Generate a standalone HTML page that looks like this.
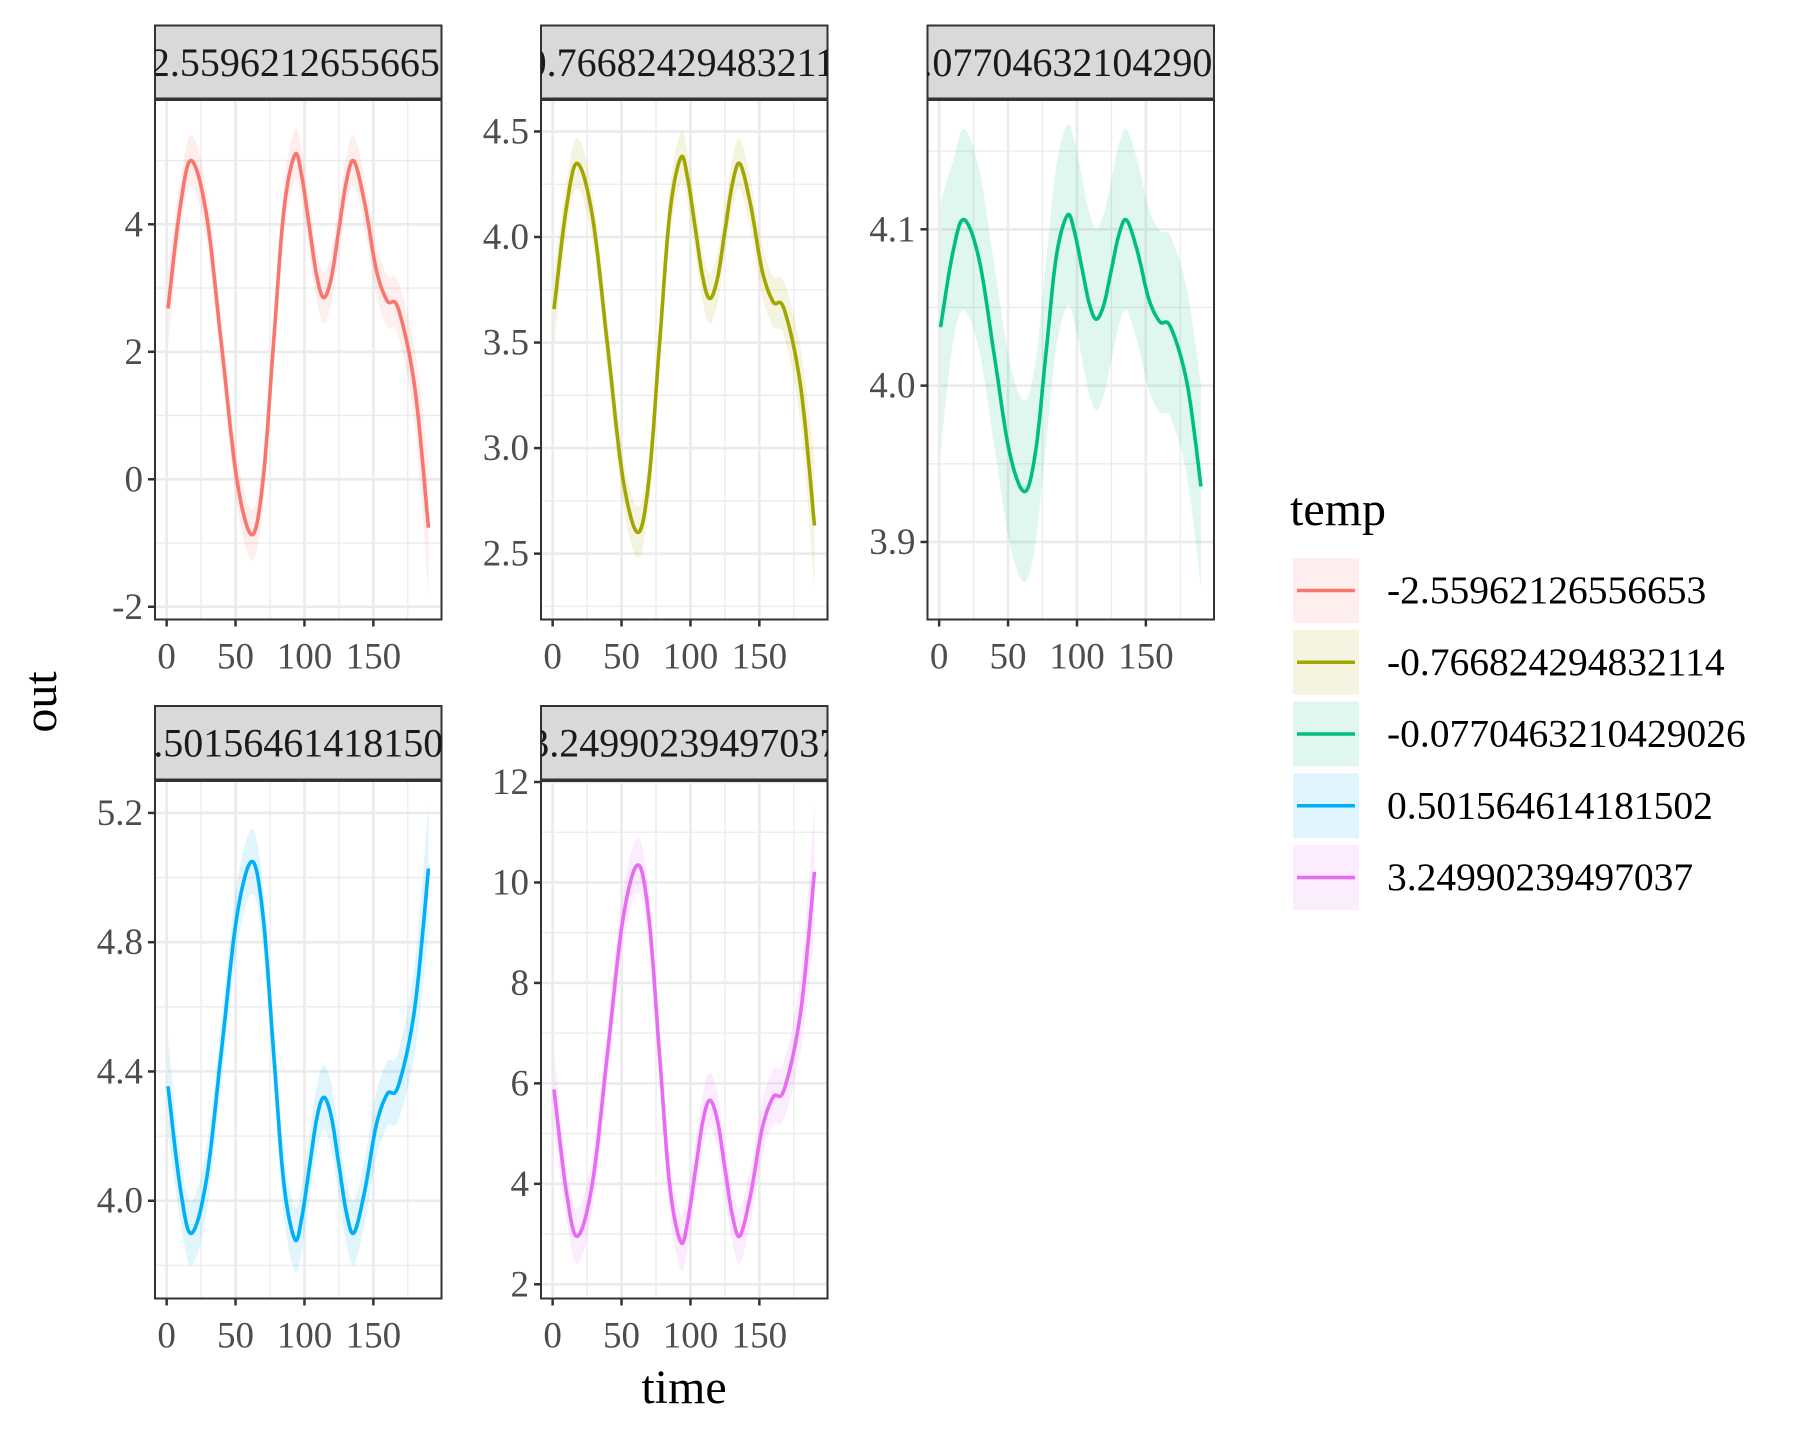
<!DOCTYPE html>
<html><head><meta charset="utf-8"><style>
html,body{margin:0;padding:0;background:#fff;}
svg{display:block;font-family:"Liberation Serif",serif;}
</style></head><body>
<svg id="chart" width="1800" height="1440" viewBox="0 0 1800 1440" xmlns="http://www.w3.org/2000/svg"></svg>
<script>
const times = [1,10,18,29,40,51,62,70,77.5,85,93,98,103.5,109,114,119.5,125,130.5,136,144,152,160,168,180,190];
const series1 = [2.68,4.3,5.0,4.14,2.07,-0.01,-0.87,0.0,2.11,4.2,5.09,4.76,3.97,3.18,2.85,3.16,3.92,4.68,4.99,4.3,3.3,2.8,2.68,1.45,-0.76];
const series2 = [3.658,4.140,4.349,4.093,3.476,2.856,2.600,2.859,3.488,4.111,4.376,4.277,4.042,3.807,3.708,3.801,4.027,4.254,4.346,4.140,3.842,3.693,3.658,3.291,2.633];
const series3 = [4.0374,4.0855,4.1062,4.0807,4.0194,3.9577,3.9322,3.958,4.0205,4.0825,4.1089,4.0991,4.0757,4.0523,4.0425,4.0517,4.0742,4.0967,4.1059,4.0855,4.0558,4.041,4.0374,4.001,3.9355];
const series4 = [4.354,4.036,3.899,4.068,4.473,4.881,5.050,4.879,4.465,4.056,3.881,3.946,4.101,4.256,4.320,4.260,4.111,3.962,3.901,4.036,4.232,4.330,4.354,4.595,5.028];
const series5 = [5.877,3.836,2.954,4.038,6.646,9.267,10.350,9.254,6.595,3.962,2.841,3.256,4.252,5.247,5.663,5.272,4.315,3.357,2.967,3.836,5.096,5.726,5.877,7.427,10.212];
const band1 = [0.6,0.4,0.4,0.4,0.4,0.4,0.4,0.4,0.4,0.4,0.4,0.4,0.4,0.4,0.4,0.4,0.4,0.4,0.4,0.4,0.4,0.4,0.42,0.6,1.05];
const band2 = [0.18,0.12,0.12,0.12,0.12,0.12,0.12,0.12,0.12,0.12,0.12,0.12,0.12,0.12,0.12,0.12,0.12,0.12,0.12,0.12,0.12,0.12,0.13,0.18,0.31];
const band3 = [0.08,0.058,0.058,0.058,0.058,0.058,0.058,0.058,0.058,0.058,0.058,0.058,0.058,0.058,0.058,0.058,0.058,0.058,0.058,0.058,0.058,0.058,0.058,0.06,0.065];
const band4 = [0.15,0.1,0.1,0.1,0.1,0.1,0.1,0.1,0.1,0.1,0.1,0.1,0.1,0.1,0.1,0.1,0.1,0.1,0.1,0.1,0.1,0.1,0.105,0.14,0.2];
const band5 = [0.8,0.55,0.55,0.55,0.55,0.55,0.55,0.55,0.55,0.55,0.55,0.55,0.55,0.55,0.55,0.55,0.55,0.55,0.55,0.55,0.55,0.55,0.58,0.8,1.3];
const labels = ["-2.55962126556653","-0.766824294832114","-0.0770463210429026","0.501564614181502","3.24990239497037"];
const colors = ["#F8766D","#A3A500","#00BF7D","#00B0F6","#E76BF3"];
const xTicks = [0,50,100,150];
const yTicks1 = [-2,0,2,4];
const yTicks2 = [2.5,3.0,3.5,4.0,4.5];
const yTicks3 = [3.9,4.0,4.1];
const yTicks4 = [4.0,4.4,4.8,5.2];
const yTicks5 = [2,4,6,8,10,12];
const yLabels1 = ["-2","0","2","4"];
const yLabels2 = ["2.5","3.0","3.5","4.0","4.5"];
const yLabels3 = ["3.9","4.0","4.1"];
const yLabels4 = ["4.0","4.4","4.8","5.2"];
const yLabels5 = ["2","4","6","8","10","12"];

const NS="http://www.w3.org/2000/svg";
const svg=document.getElementById('chart');
function mk(tag,attrs,parent){const e=document.createElementNS(NS,tag);for(const k in attrs)e.setAttribute(k,attrs[k]);(parent||svg).appendChild(e);return e;}

const panels=[
 {x0:155,x1:441.5,y0:100,y1:619.5,st:25.5,ymin:-2.20,ymax:5.95,ys:series1,bs:band1,yt:yTicks1,yl:yLabels1},
 {x0:541,x1:827.5,y0:100,y1:619.5,st:25.5,ymin:2.188,ymax:4.649,ys:series2,bs:band2,yt:yTicks2,yl:yLabels2},
 {x0:927.5,x1:1214,y0:100,y1:619.5,st:25.5,ymin:3.8504,ymax:4.1827,ys:series3,bs:band3,yt:yTicks3,yl:yLabels3},
 {x0:155,x1:441.5,y0:781,y1:1298.5,st:706,ymin:3.6975,ymax:5.2988,ys:series4,bs:band4,yt:yTicks4,yl:yLabels4},
 {x0:541,x1:827.5,y0:781,y1:1298.5,st:706,ymin:1.717,ymax:12.02,ys:series5,bs:band5,yt:yTicks5,yl:yLabels5}
];
const xmin=-8.45,xmax=199.45;

function catmull(pts,n){const out=[];for(let i=0;i<pts.length-1;i++){const p0=pts[Math.max(0,i-1)],p1=pts[i],p2=pts[i+1],p3=pts[Math.min(pts.length-1,i+2)];for(let j=0;j<n;j++){const t=j/n,t2=t*t,t3=t2*t;
 const f=(a,b,c,d)=>0.5*((2*b)+(-a+c)*t+(2*a-5*b+4*c-d)*t2+(-a+3*b-3*c+d)*t3);
 out.push([f(p0[0],p1[0],p2[0],p3[0]),f(p0[1],p1[1],p2[1],p3[1])]);}}out.push(pts[pts.length-1]);return out;}

panels.forEach((p,i)=>{
 const g=mk('g',{});
 
 
 const sx=v=>p.x0+(v-xmin)/(xmax-xmin)*(p.x1-p.x0);
 const sy=v=>p.y1-(v-p.ymin)/(p.ymax-p.ymin)*(p.y1-p.y0);
 mk('rect',{x:p.x0,y:p.y0,width:p.x1-p.x0,height:p.y1-p.y0,fill:'#fff'},g);
 const cid='clip'+i;const cp=mk('clipPath',{id:cid},g);mk('rect',{x:p.x0,y:p.y0,width:p.x1-p.x0,height:p.y1-p.y0},cp);
 const gg=mk('g',{'clip-path':'url(#'+cid+')'},g);
 for(let k=0;k<xTicks.length;k++){const m=xTicks[k]+25;mk('line',{x1:sx(m),x2:sx(m),y1:p.y0,y2:p.y1,stroke:'#EBEBEB','stroke-width':1.3},gg);}
 const st=p.yt[1]-p.yt[0];
 for(let k=-1;k<p.yt.length;k++){const m=p.yt[0]+st*(k+0.5);mk('line',{x1:p.x0,x2:p.x1,y1:sy(m),y2:sy(m),stroke:'#EBEBEB','stroke-width':1.3},gg);}
 xTicks.forEach(v=>mk('line',{x1:sx(v),x2:sx(v),y1:p.y0,y2:p.y1,stroke:'#EBEBEB','stroke-width':2.6},gg));
 p.yt.forEach(v=>mk('line',{x1:p.x0,x2:p.x1,y1:sy(v),y2:sy(v),stroke:'#EBEBEB','stroke-width':2.6},gg));
 const up=catmull(times.map((t,k)=>[sx(t),sy(p.ys[k]+p.bs[k])]),12);
 const lo=catmull(times.map((t,k)=>[sx(t),sy(p.ys[k]-p.bs[k])]),12).reverse();
 const rib=mk('path',{d:'M'+up.concat(lo).map(q=>q[0].toFixed(1)+','+q[1].toFixed(1)).join('L')+'Z',fill:colors[i],'fill-opacity':0.12},gg);
 
 
 const ln=catmull(times.map((t,k)=>[sx(t),sy(p.ys[k])]),12);
 const line=mk('path',{d:'M'+ln.map(q=>q[0].toFixed(1)+','+q[1].toFixed(1)).join('L'),fill:'none',stroke:colors[i],'stroke-width':3.6,'stroke-linejoin':'round'},gg);
 
 
 mk('rect',{x:p.x0,y:p.y0,width:p.x1-p.x0,height:p.y1-p.y0,fill:'none',stroke:'#333','stroke-width':2},g);
 const scid='sclip'+i;const scp=mk('clipPath',{id:scid},g);mk('rect',{x:p.x0,y:p.st,width:p.x1-p.x0,height:p.y0-p.st},scp);
 const strip=mk('rect',{x:p.x0,y:p.st,width:p.x1-p.x0,height:p.y0-p.st-1.5,fill:'#D9D9D9',stroke:'#333','stroke-width':2},g);
 
 
 const stt=mk('text',{x:(p.x0+p.x1)/2,y:(p.st+p.y0)/2+13,'text-anchor':'middle','font-size':40,fill:'#1A1A1A','clip-path':'url(#'+scid+')'},g);
 stt.textContent=labels[i];
 
 
 xTicks.forEach(v=>{mk('line',{x1:sx(v),x2:sx(v),y1:p.y1,y2:p.y1+7,stroke:'#333','stroke-width':2.5},g);
  const t=mk('text',{x:sx(v),y:p.y1+49,'text-anchor':'middle','font-size':37,fill:'#4D4D4D'},g);t.textContent=String(v);
  
  });
 p.yt.forEach((v,k)=>{mk('line',{x1:p.x0-7,x2:p.x0,y1:sy(v),y2:sy(v),stroke:'#333','stroke-width':2.5},g);
  const t=mk('text',{x:p.x0-12,y:sy(v)+12,'text-anchor':'end','font-size':37,fill:'#4D4D4D'},g);t.textContent=p.yl[k];
  
  });
});

const xt=mk('text',{x:684,y:1403,'text-anchor':'middle','font-size':48,fill:'#000'});xt.textContent='time';


const yt=mk('text',{x:0,y:0,'text-anchor':'middle','font-size':48,fill:'#000',transform:'translate(56,702) rotate(-90)'});yt.textContent='out';



const lg=mk('g',{});


const lt=mk('text',{x:1290,y:525,'font-size':48,fill:'#000'},lg);lt.textContent='temp';


labels.forEach((l,i)=>{
 const y=558+i*71.75;
 const e=mk('g',{},lg);
 
 
 mk('rect',{x:1293,y:y,width:66,height:65,fill:colors[i],'fill-opacity':0.12},e);
 mk('line',{x1:1297,x2:1355,y1:y+32.5,y2:y+32.5,stroke:colors[i],'stroke-width':3.6},e);
 const t=mk('text',{x:1387,y:y+45,'font-size':39.5,fill:'#000'},e);t.textContent=l;
});
</script>
</body></html>
